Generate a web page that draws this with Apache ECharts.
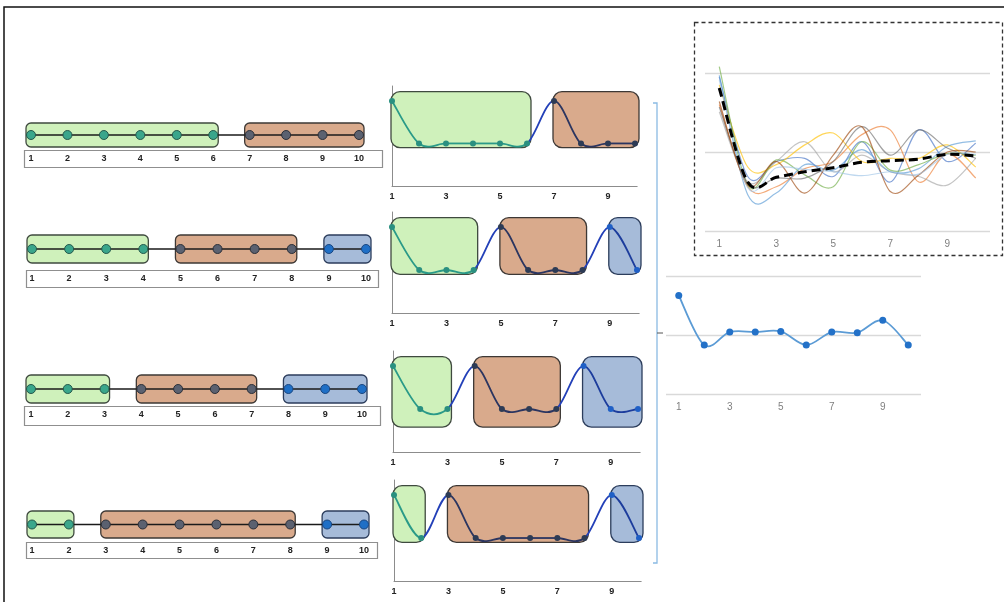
<!DOCTYPE html>
<html>
<head>
<meta charset="utf-8">
<script src="https://cdn.jsdelivr.net/npm/echarts@6/dist/echarts.min.js"></script>
<style>
  html, body { margin: 0; padding: 0; background: #ffffff; }
  #chart { width: 1004px; height: 602px; }
</style>
</head>
<body>
<div id="chart"></div>
<script>
// ---- data ----
const positions = [1, 2, 3, 4, 5, 6, 7, 8, 9, 10];
const oddTicks = [1, 3, 5, 7, 9];

// segmentations: [first position, last position, segment kind]
const segmentsA = [[1, 6, 0], [7, 10, 1]];
const segmentsB = [[1, 4, 0], [5, 8, 1], [9, 10, 2]];
const segmentsC = [[1, 3, 0], [4, 7, 1], [8, 10, 2]];
const segmentsD = [[1, 2, 0], [3, 8, 1], [9, 10, 2]];

// segment-start signals
const signalA = [1, 0, 0, 0, 0, 0, 1, 0, 0, 0];
const signalB = [1, 0, 0, 0, 1, 0, 0, 0, 1, 0];
const signalC = [1, 0, 0, 1, 0, 0, 0, 1, 0, 0];
const signalD = [1, 0, 1, 0, 0, 0, 0, 0, 1, 0];

// individual profiles and their average
const profileBlue   = [1.95, 0.69, 0.88, 0.92, 0.69, 1.13, 0.62, 1.28, 0.88, 1.11];
const profileOrange = [1.60, 0.56, 0.56, 0.79, 0.88, 1.22, 1.28, 0.62, 0.98, 0.67];
const profileGray   = [1.51, 0.62, 0.88, 1.13, 0.75, 0.96, 0.75, 0.69, 0.58, 0.92];
const profileYellow = [1.85, 0.81, 0.84, 1.09, 1.24, 0.88, 0.92, 0.92, 1.09, 0.81];
const profileSky    = [1.97, 0.46, 0.48, 0.84, 0.77, 1.03, 0.75, 0.79, 1.07, 1.14];
const profileGreen  = [2.08, 0.58, 0.90, 0.71, 0.56, 1.13, 0.77, 0.84, 0.98, 0.96];
const profileSlate  = [1.57, 0.60, 0.67, 0.67, 0.88, 1.32, 0.96, 1.28, 1.05, 0.92];
const profileBrown  = [1.64, 0.58, 0.88, 0.48, 0.96, 1.32, 0.50, 0.71, 1.00, 1.00];
const profilePale   = [1.91, 0.55, 0.80, 0.78, 0.75, 0.70, 0.75, 0.72, 0.97, 0.97];
const profileMean   = [1.81, 0.62, 0.68, 0.75, 0.80, 0.87, 0.89, 0.91, 0.97, 0.95];

// summary curve
const summaryValues = [1.67, 0.83, 1.05, 1.05, 1.06, 0.83, 1.05, 1.04, 1.25, 0.83];

// ---- styling ----
const boxFill   = ['#cff1bb', '#d9aa8c', '#a6bbd9'];
const boxStroke = ['#3f4a3f', '#3d3835', '#2c3d5c'];
const dotFill   = ['#3aa68b', '#5b6170', '#1f6fc6'];
const dotStroke = ['#25584b', '#2b2f38', '#1a4680'];
const segLine   = ['#2a9a88', '#2b3560', '#1c3c9c'];
const segDot    = ['#2a9080', '#2d3b55', '#1f5fc6'];
const linkLine  = '#2340b8';
const labelFont = 'Liberation Sans';

const allSegments = [segmentsA, segmentsB, segmentsC, segmentsD];
const allSignals = [signalA, signalB, signalC, signalD];

const rowLayout = [
  { x1: 31, x10: 359, top: 123, h: 24, frame: [24, 150, 358, 17] },
  { x1: 32, x10: 366, top: 235, h: 28, frame: [26, 270, 352, 17] },
  { x1: 31, x10: 362, top: 375, h: 28, frame: [24, 406, 356, 19] },
  { x1: 32, x10: 364, top: 511, h: 27, frame: [26, 542, 351, 16] }
];
const midLayout = [
  { x1: 392, x10: 635, top: 86,  bottom: 186, low: -0.1 },
  { x1: 392, x10: 637, top: 212, bottom: 313, low: -0.1 },
  { x1: 393, x10: 638, top: 351, bottom: 452, low: -0.42 },
  { x1: 394, x10: 639, top: 480, bottom: 581, low: -0.1 }
];

function kindAt(segs, x) {
  for (const s of segs) if (x >= s[0] && x <= s[1]) return s[2];
  return 0;
}

// Smooth curve through all points of a custom series (cardinal spline, 1/6 tension).
// segStyle(j) gives the stroke for the piece between point j and j+1;
// dotStyle(j) gives the marker style for point j (or null).
function splineSeries(gi, xs, ys, segStyle, dotStyle, dotSize, single, z) {
  return {
    type: 'custom', xAxisIndex: gi, yAxisIndex: gi, silent: true, z: z || 3,
    data: xs.map((x, j) => [x, ys[j]]),
    renderItem: (params, api) => {
      const n = xs.length;
      const children = [];
      if (params.dataIndex === 0) {
        const pts = [];
        for (let j = 0; j < n; j++) pts.push(api.coord([api.value(0, j), api.value(1, j)]));
        const pieces = [];
        for (let j = 0; j < n - 1; j++) {
          const p0 = pts[Math.max(j - 1, 0)], p1 = pts[j], p2 = pts[j + 1], p3 = pts[Math.min(j + 2, n - 1)];
          pieces.push({
            x1: p1[0], y1: p1[1], x2: p2[0], y2: p2[1],
            cpx1: p1[0] + (p2[0] - p0[0]) / 6, cpy1: p1[1] + (p2[1] - p0[1]) / 6,
            cpx2: p2[0] - (p3[0] - p1[0]) / 6, cpy2: p2[1] - (p3[1] - p1[1]) / 6
          });
        }
        if (single) {
          let d = 'M' + pieces[0].x1 + ' ' + pieces[0].y1;
          pieces.forEach(p => { d += ' C' + p.cpx1 + ' ' + p.cpy1 + ' ' + p.cpx2 + ' ' + p.cpy2 + ' ' + p.x2 + ' ' + p.y2; });
          children.push({ type: 'path', shape: { pathData: d }, style: Object.assign({ fill: null }, segStyle(0)) });
        } else {
          pieces.forEach((p, j) => {
            children.push({ type: 'bezierCurve', shape: p, style: Object.assign({ fill: null }, segStyle(j)) });
          });
        }
      }
      const ds = dotStyle ? dotStyle(params.dataIndex) : null;
      if (ds) {
        const c = api.coord([api.value(0), api.value(1)]);
        children.push({ type: 'circle', shape: { cx: c[0], cy: c[1], r: dotSize / 2 }, style: ds });
      }
      return { type: 'group', children: children };
    }
  };
}

const grids = [], xAxes = [], yAxes = [], series = [];

// ---- segmentation rows ----
rowLayout.forEach((L, i) => {
  const gi = grids.length;
  grids.push({ left: L.x1, top: L.top, width: L.x10 - L.x1, height: L.h });
  xAxes.push({
    gridIndex: gi, type: 'value', min: 1, max: 10,
    axisLine: { show: false }, axisTick: { show: false }, splitLine: { show: false },
    axisLabel: {
      customValues: positions, margin: L.frame[1] - (L.top + L.h) + 4,
      fontSize: 9, fontWeight: 'bold', color: '#222', fontFamily: labelFont
    }
  });
  yAxes.push({ gridIndex: gi, type: 'value', min: 0, max: 1, show: false });
  const segs = allSegments[i];
  series.push({
    type: 'custom', xAxisIndex: gi, yAxisIndex: gi, z: 1, silent: true,
    data: segs,
    renderItem: (params, api) => {
      const a = api.coord([api.value(0), 1]);
      const b = api.coord([api.value(1), 0]);
      const k = api.value(2);
      return {
        type: 'rect',
        shape: { x: a[0] - 5, y: a[1], width: b[0] - a[0] + 10, height: b[1] - a[1], r: 5 },
        style: { fill: boxFill[k], stroke: boxStroke[k], lineWidth: 1.3 }
      };
    }
  });
  series.push({
    type: 'line', xAxisIndex: gi, yAxisIndex: gi, z: 3, silent: true,
    symbol: 'circle', symbolSize: 9,
    lineStyle: { color: '#1b1b1b', width: 1.6 },
    data: positions.map(x => {
      const k = kindAt(segs, x);
      return { value: [x, 0.5], itemStyle: { color: dotFill[k], borderColor: dotStroke[k], borderWidth: 1 } };
    })
  });
});

// ---- signal panels ----
midLayout.forEach((L, i) => {
  const gi = grids.length;
  const unit = (L.x10 - L.x1) / 9;
  grids.push({ left: L.x1, top: L.top, width: unit * 9.08, height: L.bottom - L.top });
  xAxes.push({
    gridIndex: gi, type: 'value', min: 1, max: 10.08,
    axisLine: { show: true, onZero: false, lineStyle: { color: '#8c8c8c', width: 1 } },
    axisTick: { show: false }, splitLine: { show: false },
    axisLabel: {
      customValues: oddTicks, margin: 6,
      fontSize: 9, fontWeight: 'bold', color: '#222', fontFamily: labelFont
    }
  });
  yAxes.push({
    gridIndex: gi, type: 'value', min: -1, max: 1.35,
    axisLine: { show: true, onZero: false, lineStyle: { color: '#8c8c8c', width: 1 } },
    axisTick: { show: false }, axisLabel: { show: false }, splitLine: { show: false }
  });
  const segs = allSegments[i];
  series.push({
    type: 'custom', xAxisIndex: gi, yAxisIndex: gi, z: 1, silent: true,
    data: segs,
    renderItem: (params, api) => {
      const a = api.coord([api.value(0), 1.22]);
      const b = api.coord([api.value(1), L.low]);
      const k = api.value(2);
      return {
        type: 'rect',
        shape: { x: a[0] - 1, y: a[1], width: b[0] - a[0] + 5, height: b[1] - a[1], r: 9 },
        style: { fill: boxFill[k], stroke: boxStroke[k], lineWidth: 1.3 }
      };
    }
  });
  series.push(splineSeries(
    gi, positions, allSignals[i],
    j => {
      const a = kindAt(segs, positions[j]);
      const inside = segs.some(s => positions[j] >= s[0] && positions[j + 1] <= s[1]);
      return { stroke: inside ? segLine[a] : linkLine, lineWidth: 1.8 };
    },
    j => ({ fill: segDot[kindAt(segs, positions[j])] }),
    6, false, 3
  ));
});

// ---- profiles panel ----
const gTop = grids.length;
grids.push({ left: 705, top: 73, width: 285, height: 158 });
xAxes.push({
  gridIndex: gTop, type: 'value', min: 0.5, max: 10.5,
  axisLine: { show: false }, axisTick: { show: false }, splitLine: { show: false },
  axisLabel: { customValues: oddTicks, margin: 8, fontSize: 10, color: '#7f7f7f', fontFamily: labelFont }
});
yAxes.push({
  gridIndex: gTop, type: 'value', min: 0, max: 2, interval: 1,
  axisLine: { show: false }, axisTick: { show: false }, axisLabel: { show: false },
  splitLine: { lineStyle: { color: '#d9d9d9', width: 1.3 } }
});
const profiles = [
  [profileBlue, '#4472c4'], [profileOrange, '#ed7d31'], [profileGray, '#a5a5a5'],
  [profileYellow, '#ffc000'], [profileSky, '#5b9bd5'], [profileGreen, '#70ad47'],
  [profileSlate, '#6f6f6f'], [profileBrown, '#9e480e'], [profilePale, '#9dc3e6']
];
profiles.forEach(([vals, color]) => {
  series.push(splineSeries(gTop, positions, vals,
    () => ({ stroke: color, lineWidth: 1.2, opacity: 0.65 }), null, 0, true, 2));
});
series.push(splineSeries(gTop, positions, profileMean,
  () => ({ stroke: '#000000', lineWidth: 3, lineDash: [9, 5] }), null, 0, true, 4));

// ---- summary panel ----
const gBot = grids.length;
grids.push({ left: 666, top: 276, width: 255, height: 118 });
xAxes.push({
  gridIndex: gBot, type: 'value', min: 0.5, max: 10.5,
  axisLine: { show: false }, axisTick: { show: false }, splitLine: { show: false },
  axisLabel: { customValues: oddTicks, margin: 8, fontSize: 10, color: '#7f7f7f', fontFamily: labelFont }
});
yAxes.push({
  gridIndex: gBot, type: 'value', min: 0, max: 2, interval: 1,
  axisLine: { show: false }, axisTick: { show: false }, axisLabel: { show: false },
  splitLine: { lineStyle: { color: '#d9d9d9', width: 1.3 } }
});
series.push(splineSeries(gBot, positions, summaryValues,
  () => ({ stroke: '#5b9bd5', lineWidth: 1.8 }),
  () => ({ fill: '#2371c8' }), 7, true, 3));

// ---- frames and brackets ----
const graphics = [
  { type: 'polyline', shape: { points: [[4, 602], [4, 7], [1004, 7]] }, style: { stroke: '#111', lineWidth: 1.5, fill: null } },
  { type: 'rect', shape: { x: 694.5, y: 22.5, width: 308, height: 233 }, style: { stroke: '#333', lineWidth: 1.3, lineDash: [4, 3], fill: null } },
  { type: 'polyline', shape: { points: [[653, 103], [657, 103], [657, 563], [653, 563]] }, style: { stroke: '#8bbbe3', lineWidth: 1.3, fill: null } },
  { type: 'line', shape: { x1: 657, y1: 333, x2: 663, y2: 333 }, style: { stroke: '#555', lineWidth: 1 } }
];
rowLayout.forEach(L => {
  graphics.push({
    type: 'rect', shape: { x: L.frame[0] + 0.5, y: L.frame[1] + 0.5, width: L.frame[2], height: L.frame[3] },
    style: { stroke: '#8f8f8f', lineWidth: 1.2, fill: null }
  });
});

const chart = echarts.init(document.getElementById('chart'));
chart.setOption({
  animation: false,
  backgroundColor: '#ffffff',
  grid: grids,
  xAxis: xAxes,
  yAxis: yAxes,
  series: series,
  graphic: graphics
});
</script>
</body>
</html>
